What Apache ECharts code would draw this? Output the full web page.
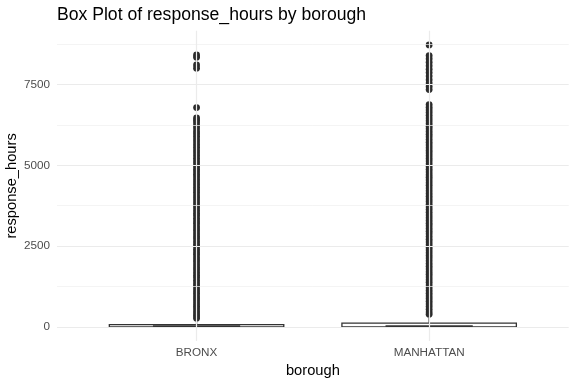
<!DOCTYPE html>
<html>
<head>
<meta charset="utf-8">
<script src="https://cdn.jsdelivr.net/npm/echarts@6/dist/echarts.min.js"></script>
<style>
html,body{margin:0;padding:0;background:#fff;}
#chart{width:576px;height:384px;}
</style>
</head>
<body>
<div id="chart"></div>
<script>
// ---- data ----
const categories = ['BRONX', 'MANHATTAN'];
// [whiskerMin, Q1, median, Q3, whiskerMax]
const bronxBox = [0, 3, 12, 72, 170];
const manhattanBox = [0, 3, 12, 114, 285];
const bronxOutliers = [8416, 8345, 8106, 8004, 6785,
  6466, 6395, 6320, 6230, 6150, 6060, 5985, 5900, 5810, 5730, 5640, 5560, 5470, 5390, 5300, 5215, 5130, 5050, 4960, 4880,
  4800, 4720, 4645, 4560, 4480, 4405, 4320, 4240, 4165, 4080, 4000, 3925, 3840, 3760, 3685, 3600, 3520, 3445, 3360, 3280,
  3205, 3120, 3040, 2965, 2880, 2800, 2725, 2640, 2560, 2485, 2400, 2320, 2245, 2160, 2080, 2005, 1920, 1840, 1765, 1680,
  1600, 1525, 1440, 1360, 1285, 1200, 1120, 1045, 960, 880, 805, 720, 640, 565, 480, 400, 335, 270];
const manhattanOutliers = [8725,
  8394, 8300, 8190, 8080, 7975, 7870, 7760, 7650, 7545, 7440, 7342,
  6878, 6795, 6710, 6630, 6545, 6460, 6380, 6295, 6210, 6130, 6045, 5960, 5880, 5795, 5710, 5630, 5545, 5460, 5380, 5295,
  5210, 5130, 5045, 4960, 4880, 4795, 4710, 4630, 4545, 4460, 4380, 4295, 4210, 4130, 4045, 3960, 3880, 3795, 3710, 3630,
  3545, 3460, 3380, 3295, 3210, 3130, 3045, 2960, 2880, 2795, 2710, 2630, 2545, 2460, 2380, 2295, 2210, 2130, 2045, 1960,
  1880, 1795, 1710, 1630, 1545, 1460, 1380, 1295, 1210, 1130, 1045, 960, 880, 795, 710, 630, 545, 460, 390];
const yTicks = [0, 2500, 5000, 7500];
const yMinorTicks = [1250, 3750, 6250, 8750];

// ---- build ----
const boxData = [[1].concat(bronxBox), [2].concat(manhattanBox)];
const outlierData = bronxOutliers.map(v => [1, v]).concat(manhattanOutliers.map(v => [2, v]));
const FONT = "'Liberation Sans', Arial, Helvetica, sans-serif";
const INK = '#333333';

function renderBox(params, api) {
  const x = api.value(0);
  const mn = api.value(1), q1 = api.value(2), md = api.value(3), q3 = api.value(4), mx = api.value(5);
  const w = api.size([0.75, 0])[0];
  const half = w / 2;
  const pQ1 = api.coord([x, q1]);
  const pQ3 = api.coord([x, q3]);
  const pMd = api.coord([x, md]);
  const pMn = api.coord([x, mn]);
  const pMx = api.coord([x, mx]);
  const cx = pQ1[0];
  const style = {stroke: INK, lineWidth: 1.3, fill: null};
  return {
    type: 'group',
    children: [
      {type: 'line', shape: {x1: cx, y1: pQ3[1], x2: cx, y2: pMx[1]}, style: style},
      {type: 'line', shape: {x1: cx, y1: pQ1[1], x2: cx, y2: pMn[1]}, style: style},
      {type: 'rect', shape: {x: cx - half, y: pQ3[1], width: w, height: pQ1[1] - pQ3[1]},
        style: {stroke: INK, lineWidth: 1.3, fill: '#ffffff'}},
      {type: 'line', shape: {x1: cx - half / 2, y1: pMd[1], x2: cx + half / 2, y2: pMd[1]},
        style: {stroke: INK, lineWidth: 2.7}}
    ]
  };
}

const chart = echarts.init(document.getElementById('chart'), null, {renderer: 'canvas'});
chart.setOption({
  animation: false,
  backgroundColor: '#ffffff',
  title: {
    text: 'Box Plot of response_hours by borough',
    left: 57, top: 5, padding: 0,
    textStyle: {fontFamily: FONT, fontSize: 17.6, fontWeight: 'normal', color: '#000000', lineHeight: 20}
  },
  grid: {left: 57, right: 7.3, top: 30.8, bottom: 43, containLabel: false, outerBoundsMode: 'none'},
  xAxis: {
    type: 'value', min: 0.4, max: 2.6,
    name: 'borough', nameLocation: 'middle', nameGap: 22, nameMoveOverlap: false,
    nameTextStyle: {fontFamily: FONT, fontSize: 14.7, color: '#000000'},
    axisLine: {show: false}, axisTick: {show: false}, splitLine: {show: false},
    axisLabel: {
      customValues: [1, 2],
      formatter: v => categories[Math.round(v) - 1] || '',
      fontFamily: FONT, fontSize: 11.7, color: '#4D4D4D', margin: 6
    }
  },
  yAxis: {
    type: 'value', min: -436, max: 9161,
    name: 'response_hours', nameLocation: 'middle', nameGap: 38, nameRotate: 90, nameMoveOverlap: false,
    nameTextStyle: {fontFamily: FONT, fontSize: 14.7, color: '#000000'},
    axisLine: {show: false}, axisTick: {show: false}, splitLine: {show: false},
    axisLabel: {
      customValues: yTicks,
      formatter: v => String(v),
      fontFamily: FONT, fontSize: 11.7, color: '#4D4D4D', margin: 7
    }
  },
  series: [
    {
      type: 'line', data: [], z: 0, silent: true,
      markLine: {
        silent: true, symbol: 'none', animation: false, label: {show: false},
        data: yMinorTicks.map(v => ({yAxis: v, lineStyle: {color: '#EFEFEF', width: 0.7, type: 'solid'}}))
          .concat(yTicks.map(v => ({yAxis: v, lineStyle: {color: '#EBEBEB', width: 1.2, type: 'solid'}})))
          .concat([1, 2].map(v => ({xAxis: v, lineStyle: {color: '#EBEBEB', width: 1.2, type: 'solid'}})))
      }
    },
    {
      type: 'custom', z: 2, renderItem: renderBox, data: boxData,
      encode: {x: 0, y: [1, 2, 3, 4, 5]}
    },
    {
      type: 'scatter', z: 3, data: outlierData, symbolSize: 6.8,
      itemStyle: {color: '#2b2b2b', opacity: 1}
    }
  ]
});
</script>
</body>
</html>
